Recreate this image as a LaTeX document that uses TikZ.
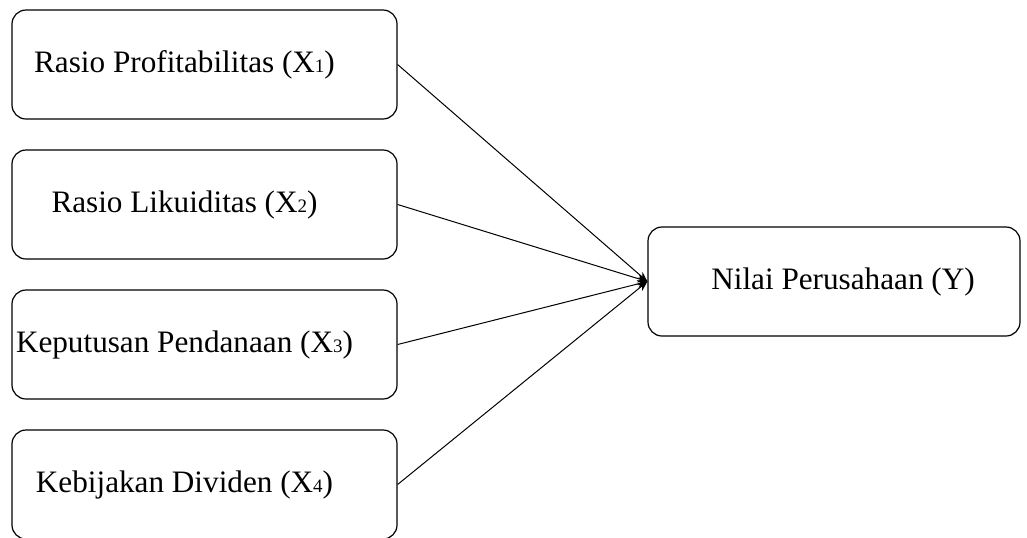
\documentclass[tikz,border=0pt]{standalone}
\usepackage{fontspec}
\setmainfont{Liberation Serif}
\usetikzlibrary{shapes, arrows.meta, positioning}

\newcommand{\subidx}[1]{{\fontsize{9.5}{10}\selectfont #1}}

\begin{document}
\begin{tikzpicture}[>={Stealth[length=5pt, width=4pt]}, node distance=70pt, x=1pt, y=1pt]
            \tikzstyle{var} = [draw, rectangle, rounded corners=7pt, minimum width=192.5pt, minimum height=54.5pt, inner xsep=0pt, line width=0.6pt, font=\fontsize{15.6}{18}\selectfont]
            \tikzstyle{cause} = [var, execute at end node=\hspace*{20pt}]
            \tikzstyle{effect} = [var, minimum width=186pt, execute at begin node=\hspace*{9pt}]
            \tikzstyle{link} = [->, line width=0.5pt]

            \useasboundingbox (0,0) rectangle (513.5,-268.5);

            \node[cause] (x1) at (102.25,-32.25) {Rasio Profitabilitas (X\subidx{1})};
            \node[cause, below of=x1] (x2) {Rasio Likuiditas (X\subidx{2})};
            \node[cause, below of=x2] (x3) {Keputusan Pendanaan (X\subidx{3})};
            \node[cause, below of=x3] (x4) {Kebijakan Dividen (X\subidx{4})};
            \node[effect] (y) at (417,-140.75) {Nilai Perusahaan (Y)};

            \draw[link] (x1.east) -- (y.west);
            \draw[link] (x2.east) -- (y.west);
            \draw[link] (x3.east) -- (y.west);
            \draw[link] (x4.east) -- (y.west);
        \end{tikzpicture}
\end{document}
